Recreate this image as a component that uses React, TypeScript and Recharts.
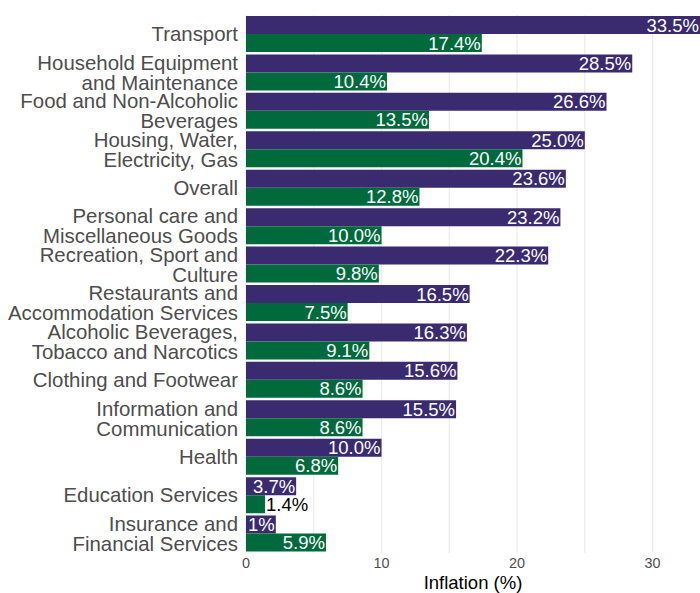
import React from 'react';
import { BarChart, Bar, XAxis, YAxis, CartesianGrid, LabelList, Label } from 'recharts';

const categories = [
  'Transport',
  'Household Equipment\nand Maintenance',
  'Food and Non-Alcoholic\nBeverages',
  'Housing, Water,\nElectricity, Gas',
  'Overall',
  'Personal care and\nMiscellaneous Goods',
  'Recreation, Sport and\nCulture',
  'Restaurants and\nAccommodation Services',
  'Alcoholic Beverages,\nTobacco and Narcotics',
  'Clothing and Footwear',
  'Information and\nCommunication',
  'Health',
  'Education Services',
  'Insurance and\nFinancial Services',
];
const seriesA = [33.5, 28.5, 26.6, 25.0, 23.6, 23.2, 22.3, 16.5, 16.3, 15.6, 15.5, 10.0, 3.7, 2.2];
const seriesB = [17.4, 10.4, 13.5, 20.4, 12.8, 10.0, 9.8, 7.5, 9.1, 8.6, 8.6, 6.8, 1.4, 5.9];
const labelsA = ['33.5%', '28.5%', '26.6%', '25.0%', '23.6%', '23.2%', '22.3%', '16.5%', '16.3%', '15.6%', '15.5%', '10.0%', '3.7%', '1%'];
const labelsB = ['17.4%', '10.4%', '13.5%', '20.4%', '12.8%', '10.0%', '9.8%', '7.5%', '9.1%', '8.6%', '8.6%', '6.8%', '1.4%', '5.9%'];
const xTicks = [0, 10, 20, 30];
const gridValues = [0, 5, 10, 15, 20, 25, 30];

const data = categories.map((c, i) => ({ category: c, a: seriesA[i], b: seriesB[i] }));

const FONT = '"Liberation Sans", Arial, sans-serif';

const makeLabel = (labels: string[]) => (props: any) => {
  const { x, y, width, height, index } = props;
  const text = labels[index];
  const est = text.length * 10;
  const inside = width > est + 4;
  return (
    <text
      x={inside ? x + width - 1 : x + width + 1}
      y={y + height / 2}
      textAnchor={inside ? 'end' : 'start'}
      dominantBaseline="central"
      fill={inside ? '#ffffff' : '#000000'}
      fontSize={18.5}
      fontFamily={FONT}
    >
      {text}
    </text>
  );
};

const CategoryTick = (props: any) => {
  const { x, y, payload } = props;
  const lines = String(payload.value).split('\n');
  const lh = 20;
  return (
    <text x={x} y={y} textAnchor="end" fill="#4d4d4d" fontSize={20.4} fontFamily={FONT}>
      {lines.map((l, i) => (
        <tspan key={i} x={x} y={y + (i - (lines.length - 1) / 2) * lh} dominantBaseline="central">
          {l}
        </tspan>
      ))}
    </text>
  );
};

export default function App() {
  return (
    <div style={{ position: 'absolute', left: 0, top: 0, background: '#fff' }}>
      <BarChart
        width={700}
        height={593}
        data={data}
        layout="vertical"
        margin={{ top: 15, right: 0, bottom: 0, left: 0 }}
        barCategoryGap={1}
        barGap={0}
      >
        <CartesianGrid horizontal={false} vertical verticalValues={gridValues} stroke="#ebebeb" strokeWidth={1.2} />
        <XAxis
          type="number"
          domain={[0, 33.5]}
          ticks={xTicks}
          axisLine={false}
          tickLine={false}
          tickSize={0}
          tickMargin={5}
          height={40}
          tick={{ fill: '#4d4d4d', fontSize: 14.4, fontFamily: FONT }}
          allowDataOverflow
        >
          <Label value="Inflation (%)" position="insideBottom" offset={4} fill="#000" fontSize={18.5} fontFamily={FONT} />
        </XAxis>
        <YAxis
          type="category"
          dataKey="category"
          width={246}
          axisLine={false}
          tickLine={false}
          tickSize={0}
          tickMargin={8}
          interval={0}
          tick={<CategoryTick />}
        />
        <Bar dataKey="a" fill="#3a2a70" isAnimationActive={false}>
          <LabelList dataKey="a" content={makeLabel(labelsA)} />
        </Bar>
        <Bar dataKey="b" fill="#006a3d" isAnimationActive={false}>
          <LabelList dataKey="b" content={makeLabel(labelsB)} />
        </Bar>
      </BarChart>
    </div>
  );
}
